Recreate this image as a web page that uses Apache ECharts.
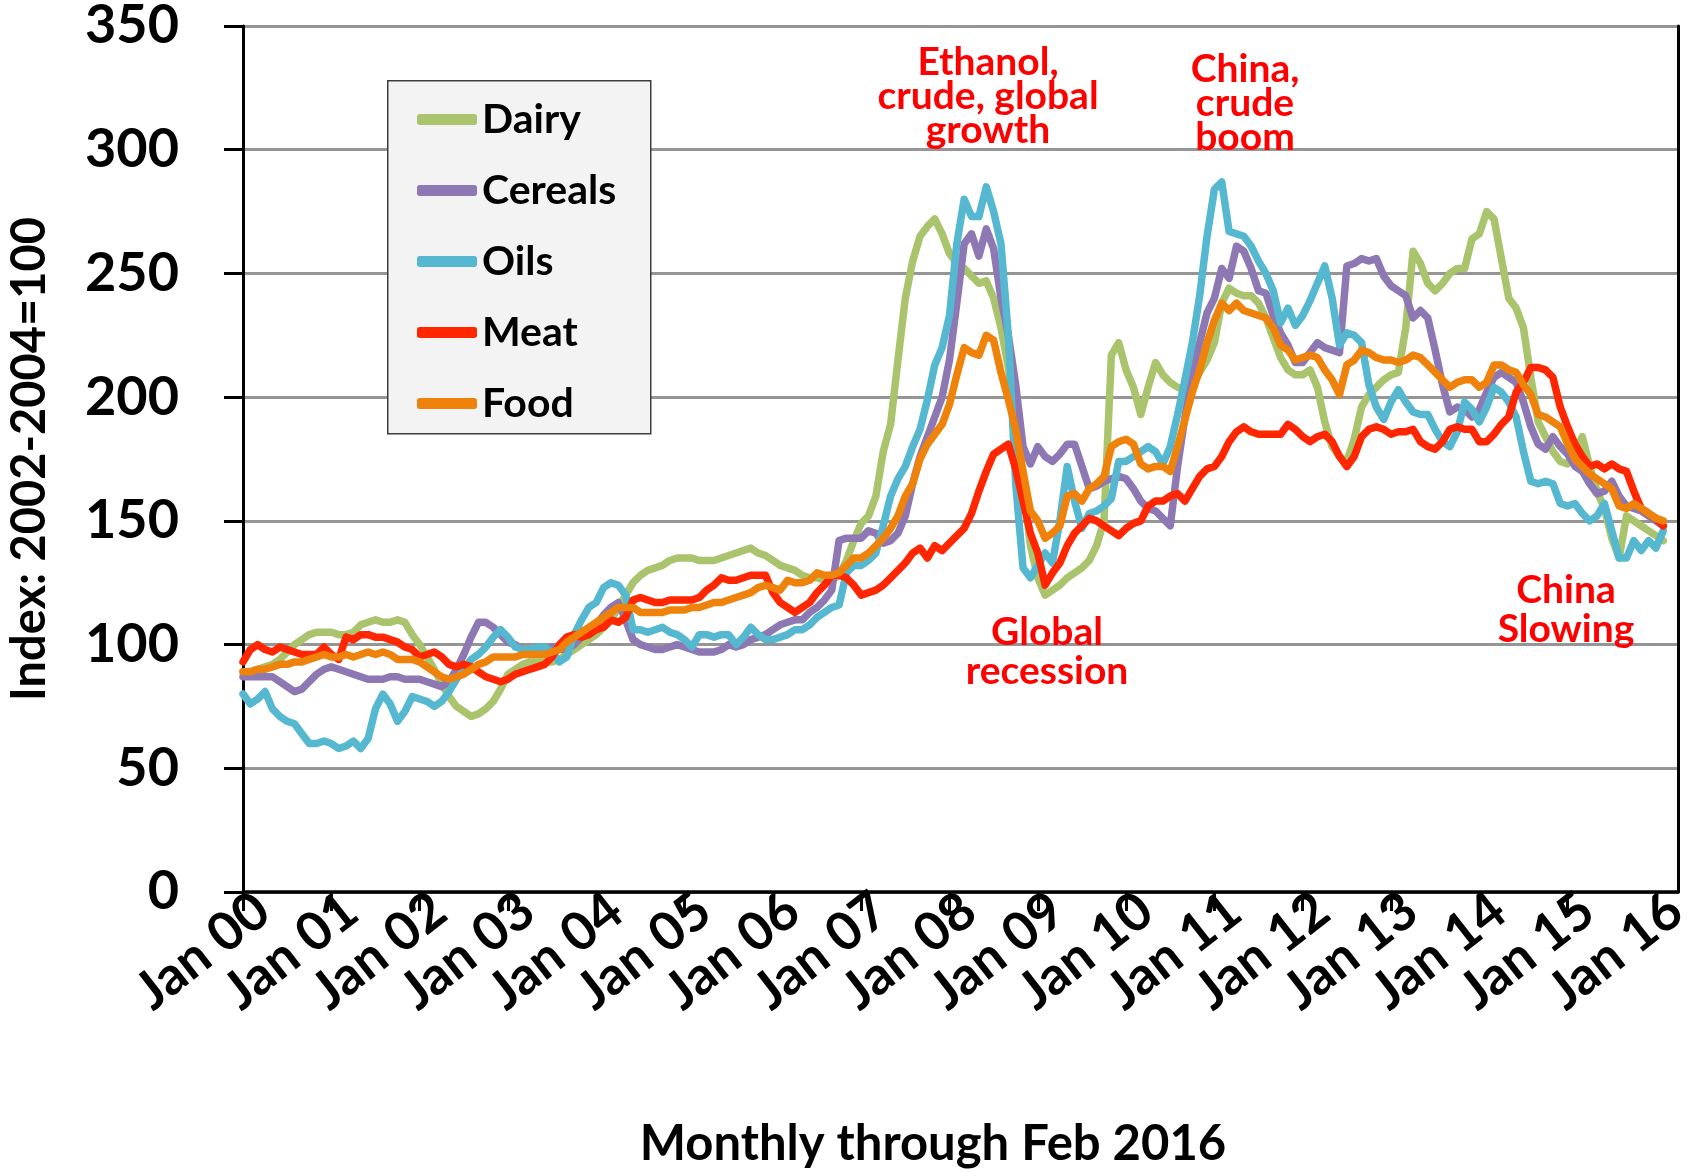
<!DOCTYPE html>
<html>
<head>
<meta charset="utf-8">
<script src="https://cdn.jsdelivr.net/npm/echarts@6/dist/echarts.min.js"></script>
<style>
  html, body { margin: 0; padding: 0; background: #fff; }
  #main { width: 1687px; height: 1172px; }
</style>
</head>
<body>
<div id="main"></div>
<script>
// FAO price indices, monthly Jan 2000 - Feb 2016 (2002-2004=100)
const monthNames = ['Jan','Feb','Mar','Apr','May','Jun','Jul','Aug','Sep','Oct','Nov','Dec']
const yearNames = ['00','01','02','03','04','05','06','07','08','09','10','11','12','13','14','15','16']

const dairy = [
  89, 89, 90, 91, 92, 94, 97, 100, 102, 104, 105, 105,
  105, 104, 104, 105, 108, 109, 110, 109, 109, 110, 109, 104,
  100, 95, 90, 84, 79, 75, 73, 71, 72, 74, 77, 82,
  88, 90, 92, 93, 93, 93, 93, 94, 96, 98, 100, 102,
  104, 107, 110, 115, 120, 125, 128, 130, 131, 132, 134, 135,
  135, 135, 134, 134, 134, 135, 136, 137, 138, 139, 137, 136,
  134, 132, 131, 130, 128, 127, 127, 126, 126, 128, 134, 142,
  149, 152, 160, 178, 189, 215, 240, 255, 265, 269, 272, 266,
  258, 254, 252, 249, 246, 247, 240, 228, 212, 190, 165, 140,
  127, 120, 122, 124, 127, 129, 131, 134, 140, 150, 217, 222,
  211, 204, 193, 204, 214, 209, 206, 204, 203, 205, 210, 215,
  222, 238, 244, 242, 241, 241, 238, 232, 224, 216, 211, 209,
  209, 211, 204, 190, 180, 176, 174, 183, 196, 201, 204, 207,
  209, 210, 228, 259, 254, 246, 243, 246, 250, 252, 252, 264,
  266, 275, 272, 256, 240, 236, 228, 208, 190, 184, 178, 174,
  173, 178, 184, 172, 162, 155, 143, 135, 152, 150, 148, 146,
  144, 142
]

const cereals = [
  87, 87, 87, 87, 87, 85, 83, 81, 82, 85, 88, 90,
  91, 90, 89, 88, 87, 86, 86, 86, 87, 87, 86, 86,
  86, 85, 84, 83, 85, 90, 96, 103, 109, 109, 107, 104,
  101, 100, 98, 97, 97, 98, 99, 98, 98, 100, 103, 106,
  108, 112, 115, 117, 110, 102, 100, 99, 98, 98, 99, 100,
  99, 98, 97, 97, 97, 98, 100, 99, 100, 102, 103, 104,
  106, 108, 109, 110, 110, 113, 115, 118, 122, 142, 143, 143,
  143, 146, 145, 141, 142, 145, 152, 165, 176, 184, 192, 200,
  215, 238, 262, 266, 257, 268, 260, 240, 225, 205, 180, 173,
  180, 176, 174, 177, 181, 181, 172, 163, 164, 166, 167, 168,
  167, 163, 158, 155, 154, 151, 148, 172, 192, 210, 222, 234,
  240, 252, 248, 261, 259, 252, 243, 242, 233, 226, 221, 214,
  214, 218, 222, 220, 219, 218, 253, 254, 256, 255, 256, 249,
  245, 243, 241, 232, 235, 232, 219, 205, 194, 196, 195, 192,
  195, 202, 208, 210, 208, 206, 198, 188, 181, 179, 184, 180,
  177, 172, 170, 165, 161, 162, 166, 160, 156, 155, 154, 152,
  150, 148
]

const oils = [
  80, 76, 78, 81, 74, 71, 69, 68, 64, 60, 60, 61,
  60, 58, 59, 61, 58, 62, 74, 80, 76, 69, 73, 79,
  78, 77, 75, 77, 81, 86, 90, 94, 96, 99, 103, 106,
  103, 99, 98, 98, 99, 99, 97, 93, 95, 104, 110, 115,
  117, 123, 125, 124, 120, 106, 106, 105, 106, 107, 105, 104,
  102, 99, 104, 104, 103, 104, 104, 100, 103, 107, 104, 102,
  102, 103, 104, 106, 106, 108, 111, 113, 115, 116, 129, 132,
  132, 134, 137, 148, 160, 167, 172, 180, 187, 199, 213, 220,
  233, 262, 280, 273, 273, 285, 275, 262, 225, 165, 131, 127,
  132, 137, 133, 150, 172, 158, 147, 153, 154, 156, 159, 174,
  174, 176, 178, 180, 178, 173, 180, 193, 207, 222, 241, 265,
  284, 287, 267, 266, 265, 261, 255, 250, 243, 230, 236, 229,
  233, 239, 246, 253, 240, 221, 226, 225, 222, 205, 196, 191,
  198, 203, 198, 194, 193, 193, 187, 182, 180, 186, 198, 195,
  190, 196, 204, 202, 198, 192, 178, 166, 165, 166, 165, 157,
  156, 157, 153, 150, 152, 157, 146, 135, 135, 142, 138, 142,
  139, 146
]

const meat = [
  93, 98, 100, 98, 97, 99, 98, 97, 96, 96, 96, 99,
  96, 94, 103, 102, 104, 104, 103, 103, 102, 101, 99, 98,
  95, 96, 97, 95, 92, 91, 92, 91, 89, 87, 86, 85,
  86, 88, 89, 90, 91, 92, 95, 100, 103, 104, 103, 104,
  106, 107, 110, 109, 111, 118, 119, 118, 117, 117, 118, 118,
  118, 118, 119, 122, 124, 127, 126, 126, 127, 128, 128, 128,
  121, 117, 115, 113, 115, 117, 121, 124, 128, 128, 127, 124,
  120, 121, 122, 124, 127, 130, 133, 137, 139, 135, 140, 138,
  141, 144, 147, 153, 162, 170, 177, 179, 181, 171, 158, 145,
  137, 124, 129, 133, 140, 145, 148, 151, 150, 148, 146, 144,
  147, 149, 150, 156, 158, 158, 160, 161, 158, 163, 168, 171,
  172, 176, 182, 186, 188, 186, 185, 185, 185, 185, 189, 187,
  184, 182, 184, 185, 182, 176, 172, 176, 184, 187, 188, 187,
  185, 186, 186, 187, 182, 180, 179, 182, 187, 188, 187, 187,
  182, 182, 185, 189, 192, 202, 206, 212, 212, 211, 208, 196,
  188, 181, 176, 172, 173, 171, 173, 171, 170, 162, 155, 153,
  151, 148
]

const food = [
  89, 89, 90, 90, 91, 92, 92, 93, 93, 94, 95, 96,
  95, 95, 96, 95, 96, 97, 96, 97, 96, 94, 94, 94,
  93, 91, 89, 87, 86, 87, 88, 90, 92, 93, 95, 95,
  95, 95, 96, 96, 96, 96, 97, 98, 101, 103, 105, 107,
  109, 111, 113, 115, 115, 115, 113, 113, 113, 113, 114, 114,
  114, 115, 115, 116, 117, 117, 118, 119, 120, 121, 123, 124,
  123, 122, 126, 125, 125, 126, 129, 128, 128, 129, 132, 135,
  135, 137, 140, 143, 147, 152, 160, 165, 175, 181, 185, 189,
  197, 209, 220, 218, 217, 225, 223, 210, 199, 187, 170, 154,
  150, 143, 145, 148, 160, 161, 158, 163, 165, 168, 180, 182,
  183, 181, 173, 171, 172, 172, 170, 180, 191, 202, 211, 222,
  231, 238, 235, 238, 235, 234, 233, 232, 228, 221, 219, 215,
  216, 217, 216, 211, 207, 201, 213, 215, 219, 218, 216, 215,
  215, 214, 215, 217, 216, 213, 210, 207, 204, 206, 207, 207,
  204, 206, 213, 213, 211, 210, 205, 201, 193, 192, 190, 188,
  181, 175, 172, 169, 167, 165, 163, 156, 155, 157, 155, 153,
  151, 150
]

const seriesNames = ['Dairy', 'Cereals', 'Oils', 'Meat', 'Food']
const seriesColors = ['#a9c46c', '#8e78b4', '#56b8d0', '#ff2600', '#ee820a']
const seriesData = [dairy, cereals, oils, meat, food]

// month labels, axis runs two months past the last point
const categories = []
yearNames.forEach(y => monthNames.forEach(m => categories.push(m + ' ' + y)))
categories.length = 196

const FONT = 'Lato'
const lastJan = 192                       // index of Jan 16
const plotW = 1435                        // plot width in px
const janW = plotW * lastJan / (categories.length - 1)

const chart = echarts.init(document.getElementById('main'))

const option = {
  animation: false,
  backgroundColor: '#fff',
  textStyle: { fontFamily: FONT },
  grid: [
    // plot
    { left: 243, width: plotW, top: 26, bottom: 280, containLabel: false, outerBoundsMode: 'none' },
    // yearly ticks, Jan 00 .. Jan 16
    { left: 243, width: janW, top: 26, bottom: 280, containLabel: false, outerBoundsMode: 'none' },
    // slanted year labels, nudged right
    { left: 263, width: janW, top: 26, bottom: 280, containLabel: false, outerBoundsMode: 'none' }
  ],
  legend: {
    orient: 'vertical',
    left: 417,
    top: 99,
    padding: 0,
    itemWidth: 60,
    itemHeight: 11,
    itemGap: 30,
    icon: 'roundRect',
    textStyle: { fontFamily: FONT, fontSize: 41, fontWeight: 'bold', color: '#000', lineHeight: 40 },
    data: seriesNames
  },
  xAxis: [
    {
      type: 'category',
      data: categories,
      boundaryGap: false,
      axisLine: { lineStyle: { color: '#000', width: 3.5 } },
      axisTick: { show: false },
      axisLabel: { show: false },
      splitLine: { show: false }
    },
    {
      type: 'value',
      gridIndex: 1,
      min: 0, max: lastJan, interval: 12,
      axisLine: { show: false },
      axisTick: { show: true, length: 19, lineStyle: { color: '#000', width: 3 } },
      axisLabel: { show: false },
      splitLine: { show: false }
    },
    {
      type: 'value',
      gridIndex: 2,
      min: 0, max: lastJan, interval: 12,
      axisLine: { show: false },
      axisTick: { show: false },
      splitLine: { show: false },
      axisLabel: {
        rotate: 38, margin: 12,
        formatter: v => (v % 12 === 0 ? categories[v] : ''),
        fontFamily: FONT, fontSize: 53, fontWeight: 'bold', color: '#000'
      }
    }
  ],
  yAxis: [
    {
      type: 'value', min: 0, max: 350, interval: 50,
      name: 'Index: 2002-2004=100',
      nameLocation: 'middle',
      nameGap: 190,
      nameTextStyle: { fontFamily: FONT, fontSize: 47, fontWeight: 'bold', color: '#000' },
      axisLine: { show: true, lineStyle: { color: '#000', width: 3 } },
      axisTick: { show: true, length: 19, lineStyle: { color: '#000', width: 3 } },
      axisLabel: { margin: 64, fontFamily: FONT, fontSize: 54, fontWeight: 'bold', color: '#000' },
      splitLine: { show: true, lineStyle: { color: '#959595', width: 3 } }
    },
    {
      type: 'value', min: 0, max: 350, position: 'right',
      axisLine: { show: true, lineStyle: { color: '#000', width: 3 } },
      axisTick: { show: false },
      axisLabel: { show: false },
      splitLine: { show: false }
    },
    { type: 'value', gridIndex: 1, min: 0, max: 350, show: false },
    { type: 'value', gridIndex: 2, min: 0, max: 350, show: false }
  ],
  series: seriesNames.map((name, k) => ({
    name: name,
    type: 'line',
    data: seriesData[k],
    showSymbol: false,
    symbol: 'none',
    itemStyle: { color: seriesColors[k] },
    lineStyle: { color: seriesColors[k], width: 7.5, cap: 'round', join: 'round' }
  })),
  graphic: [
    {
      type: 'rect', left: 387, top: 80, z: 3,
      shape: { width: 263, height: 353 },
      style: { fill: '#f3f3f3', stroke: '#3c3c3c', lineWidth: 1.5 }
    },
    {
      type: 'text', x: 933, y: 1144, z: 5,
      style: { text: 'Monthly through Feb 2016', fontFamily: FONT, fontSize: 49, fontWeight: 'bold',
        fill: '#000', align: 'center', verticalAlign: 'middle' }
    },
    {
      type: 'text', x: 988, y: 96, z: 5,
      style: { text: 'Ethanol,\ncrude, global\ngrowth', fontFamily: FONT, fontSize: 39, fontWeight: 'bold',
        fill: '#ff0000', align: 'center', verticalAlign: 'middle', lineHeight: 34 }
    },
    {
      type: 'text', x: 1245, y: 103, z: 5,
      style: { text: 'China,\ncrude\nboom', fontFamily: FONT, fontSize: 39, fontWeight: 'bold',
        fill: '#ff0000', align: 'center', verticalAlign: 'middle', lineHeight: 34 }
    },
    {
      type: 'text', x: 1047, y: 652, z: 5,
      style: { text: 'Global\nrecession', fontFamily: FONT, fontSize: 39, fontWeight: 'bold',
        fill: '#ff0000', align: 'center', verticalAlign: 'middle', lineHeight: 39 }
    },
    {
      type: 'text', x: 1566, y: 610, z: 5,
      style: { text: 'China\nSlowing', fontFamily: FONT, fontSize: 39, fontWeight: 'bold',
        fill: '#ff0000', align: 'center', verticalAlign: 'middle', lineHeight: 39 }
    }
  ]
}

chart.setOption(option)
</script>
</body>
</html>
